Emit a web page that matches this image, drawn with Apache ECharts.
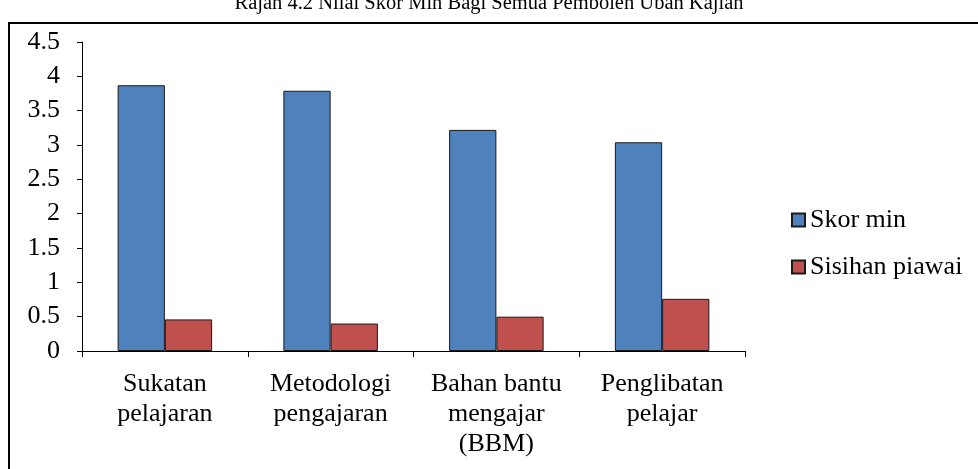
<!DOCTYPE html>
<html>
<head>
<meta charset="utf-8">
<script src="https://cdn.jsdelivr.net/npm/echarts@6/dist/echarts.min.js"></script>
<style>html,body{margin:0;padding:0;background:#fff;}#c{width:978px;height:469px;}</style>
</head>
<body>
<div id="c"></div>
<script>
const titleText = 'Rajah 4.2 Nilai Skor Min Bagi Semua Pemboleh Ubah Kajian';
const categories = ['Sukatan\npelajaran', 'Metodologi\npengajaran', 'Bahan bantu\nmengajar\n(BBM)', 'Penglibatan\npelajar'];
const seriesNames = ['Skor min', 'Sisihan piawai'];
const skorMin = [3.87, 3.79, 3.22, 3.04];
const sisihanPiawai = [0.46, 0.40, 0.50, 0.76];
const yTicks = { min: 0, max: 4.5, interval: 0.5 };

const font = 'Liberation Serif';
const chart = echarts.init(document.getElementById('c'));
chart.setOption({
  animation: false,
  backgroundColor: '#fff',
  title: {
    text: titleText,
    left: 'center',
    top: -12,
    textStyle: { fontFamily: font, fontSize: 20.5, fontWeight: 'normal', color: '#000' }
  },
  graphic: [{
    type: 'rect',
    shape: { x: 9, y: 23, width: 1100, height: 600 },
    style: { fill: 'none', stroke: '#000', lineWidth: 2 },
    silent: true
  }],
  legend: {
    orient: 'vertical',
    left: 791,
    top: 207,
    padding: 0,
    itemWidth: 13,
    itemHeight: 13,
    itemGap: 21,
    icon: 'rect',
    textStyle: { fontFamily: font, fontSize: 26, color: '#000' },
    data: seriesNames
  },
  grid: { left: 82, right: 233, top: 42, bottom: 118 },
  xAxis: {
    type: 'category',
    data: categories,
    axisLine: { lineStyle: { color: '#000', width: 1 } },
    axisTick: { show: true, length: 6, lineStyle: { color: '#000' } },
    axisLabel: { interval: 0, margin: 18, fontFamily: font, fontSize: 26, lineHeight: 30, color: '#000' }
  },
  yAxis: {
    type: 'value',
    min: yTicks.min,
    max: yTicks.max,
    interval: yTicks.interval,
    axisLine: { show: true, lineStyle: { color: '#000', width: 1 } },
    axisTick: { show: true, length: 5, lineStyle: { color: '#000' } },
    splitLine: { show: false },
    axisLabel: { margin: 22, fontFamily: font, fontSize: 26, color: '#000' }
  },
  series: [
    {
      name: seriesNames[0], type: 'bar', data: skorMin,
      barGap: '0%', barCategoryGap: '43%',
      itemStyle: { color: '#4F81BD', borderColor: '#1a1a1a', borderWidth: 1 }
    },
    {
      name: seriesNames[1], type: 'bar', data: sisihanPiawai,
      barGap: '0%', barCategoryGap: '43%',
      itemStyle: { color: '#C0504D', borderColor: '#1a1a1a', borderWidth: 1 }
    }
  ]
});
</script>
</body>
</html>
